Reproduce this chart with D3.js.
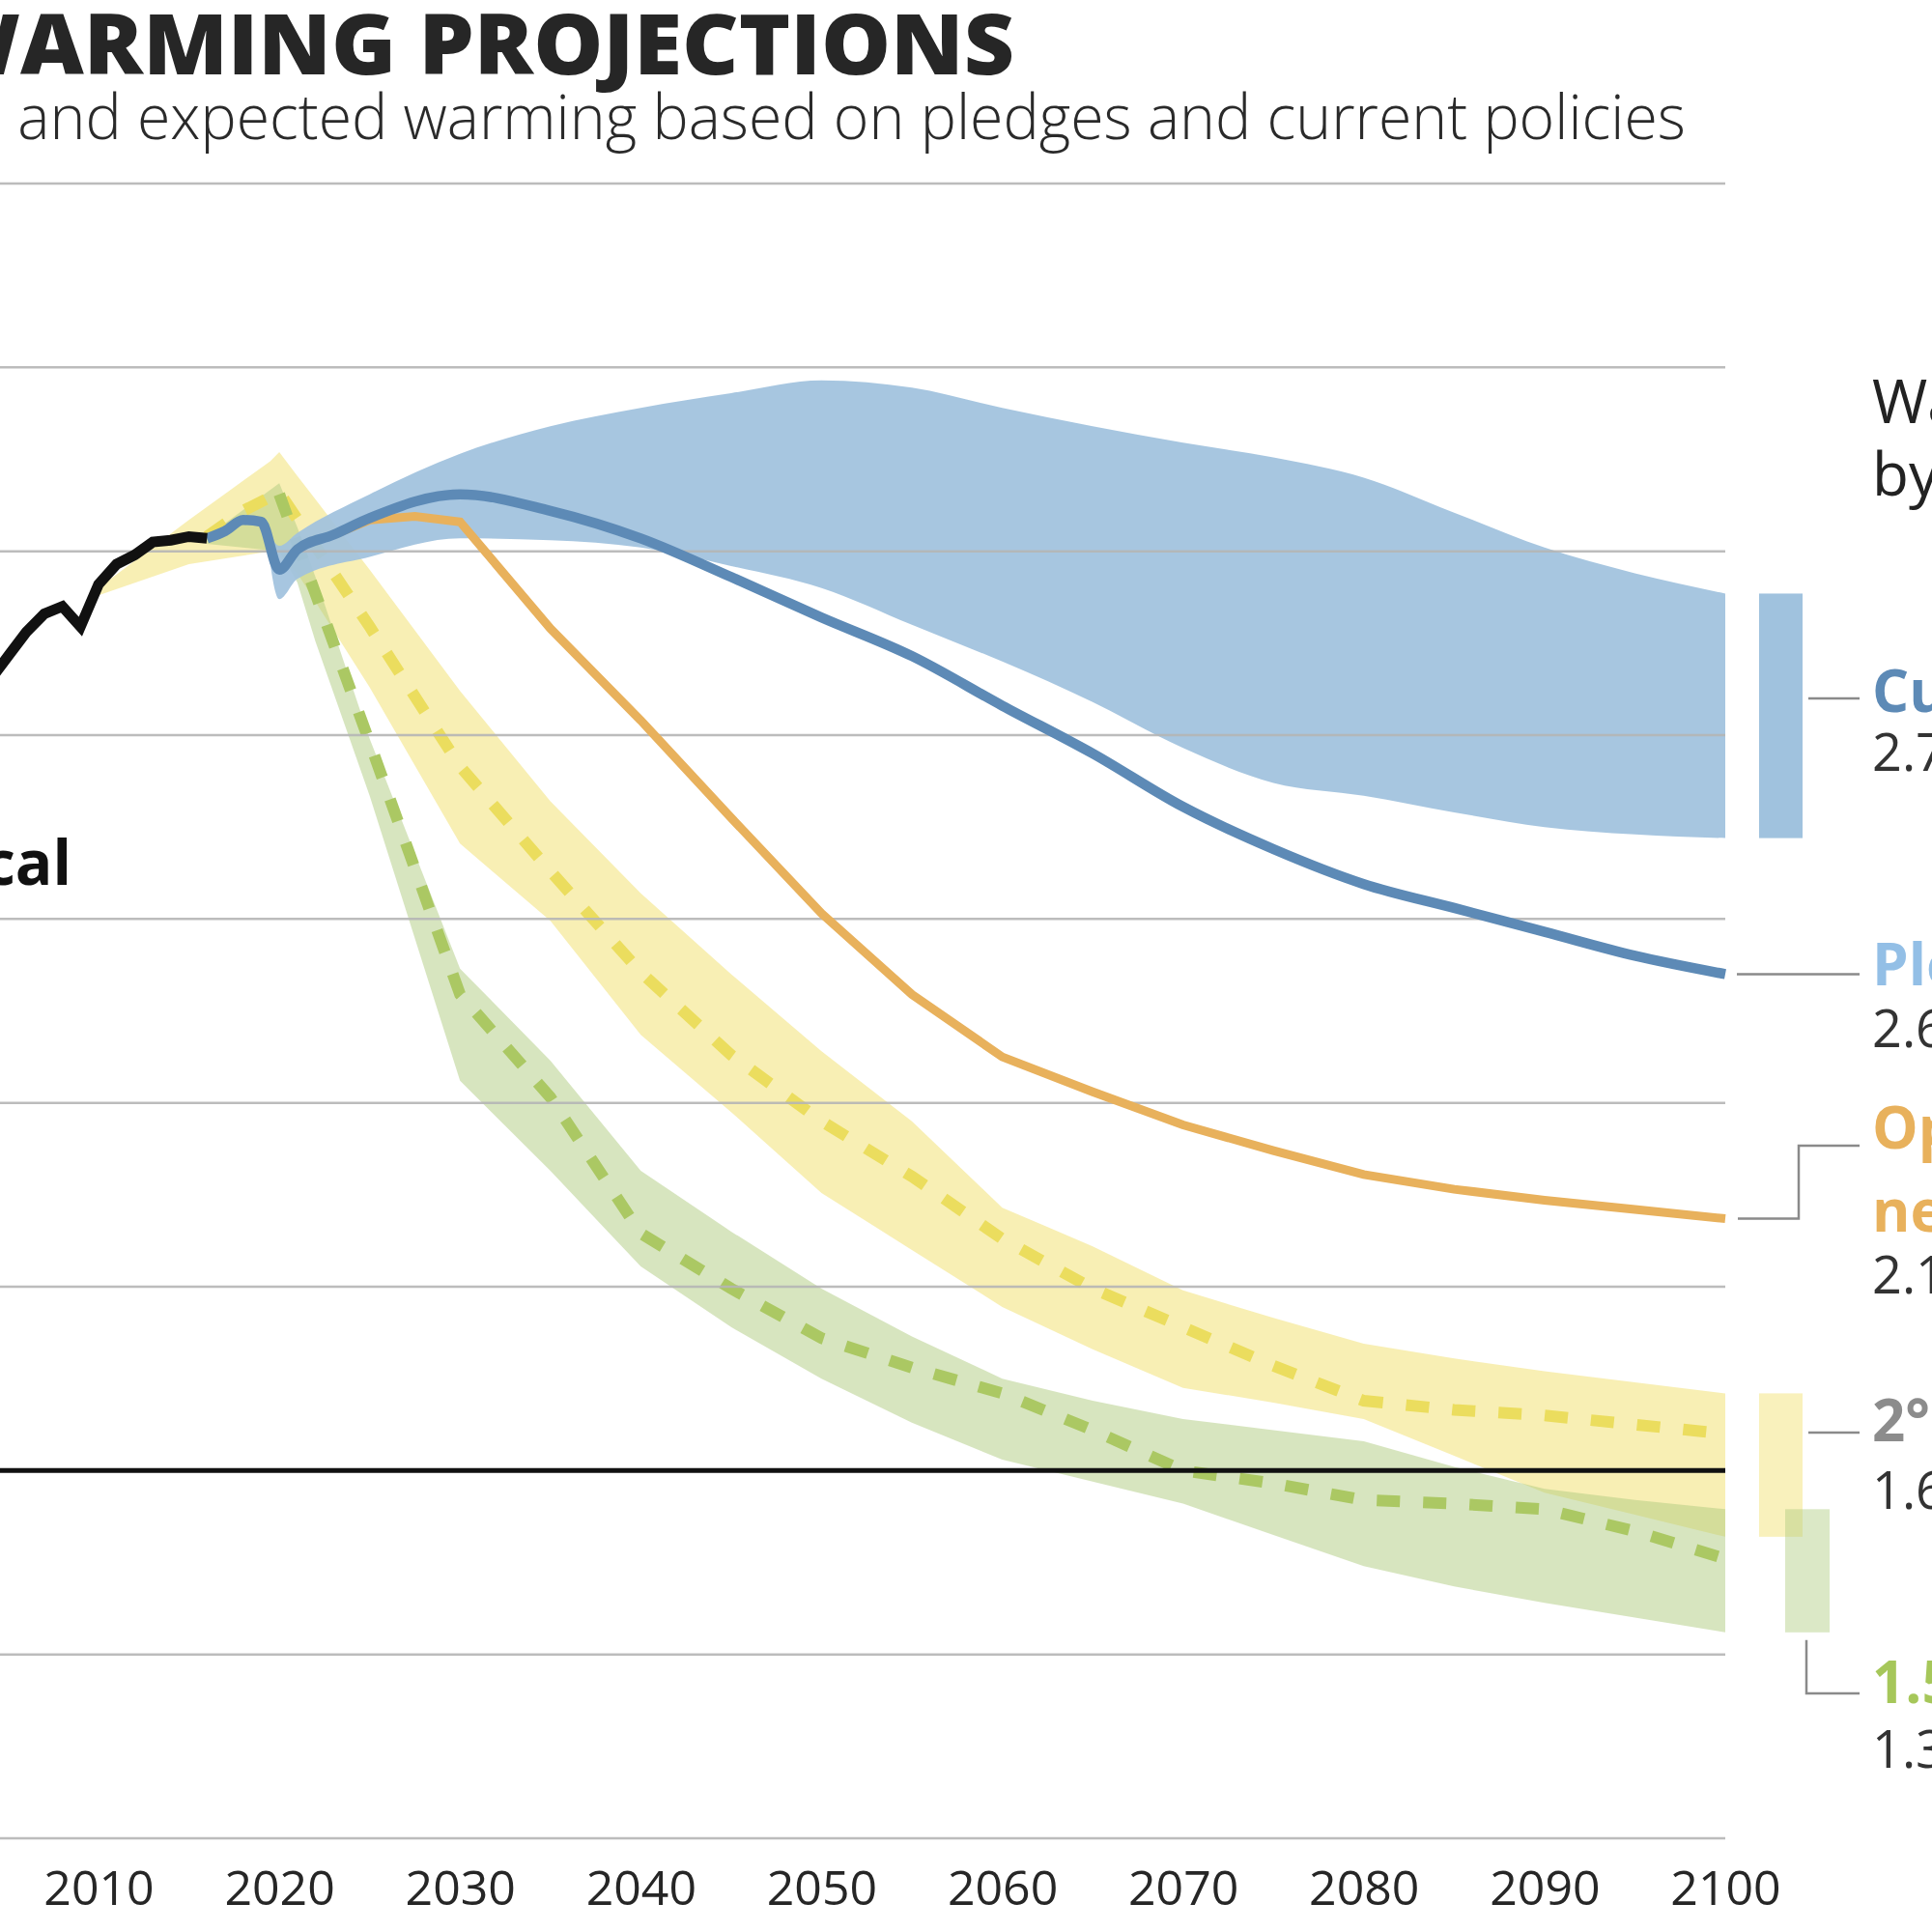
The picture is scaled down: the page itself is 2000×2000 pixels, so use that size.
<!DOCTYPE html>
<html>
<head>
<meta charset="utf-8">
<script src="https://cdn.jsdelivr.net/npm/d3@7"></script>
<style>
  html, body { margin: 0; padding: 0; background: #fff; }
  text { font-family: "Open Sans", "Noto Sans", sans-serif; }
</style>
</head>
<body>
<script>
// ---- data (GtCO2e / year) ----
var histYears = [2004, 2005, 2006, 2007, 2008, 2009, 2010, 2011, 2012, 2013, 2014, 2015, 2016];
var histGt    = [43.0, 44.3, 45.6, 46.6, 47.0, 45.9, 48.2, 49.3, 49.8, 50.5, 50.6, 50.8, 50.7];

// current policy range (blue band)
var cpYears = [2019.2, 2020, 2021, 2025, 2030, 2035, 2040, 2045, 2050, 2055, 2060, 2065, 2070, 2075, 2080, 2085, 2090, 2095, 2100];
var cpHigh  = [51.6, 50.3, 51.0, 53.1, 55.3, 56.8, 57.8, 58.6, 59.3, 58.9, 57.8, 56.8, 55.9, 55.1, 54.0, 52.1, 50.2, 48.8, 47.7];
var cpLow   = [51.6, 47.4, 48.5, 49.7, 50.7, 50.6, 50.2, 49.2, 48.0, 46.0, 44.0, 41.8, 39.3, 37.4, 36.7, 35.8, 35.0, 34.6, 34.4];

// pledges & targets (dark blue line)
var plYears = [2016, 2017, 2018, 2019, 2020, 2021, 2023, 2025, 2030, 2035, 2040, 2045, 2050, 2055, 2060, 2065, 2070, 2075, 2080, 2085, 2090, 2095, 2100];
var plGt    = [50.7, 51.1, 51.7, 51.6, 49.0, 50.1, 50.9, 51.8, 53.1, 52.2, 50.7, 48.6, 46.4, 44.3, 41.6, 39.0, 36.1, 33.8, 31.9, 30.6, 29.3, 28.0, 27.0];

// optimistic net zero targets (orange line)
var onYears = [2023, 2025, 2027.5, 2030, 2035, 2040, 2045, 2050, 2055, 2060, 2065, 2070, 2075, 2080, 2085, 2090, 2095, 2100];
var onGt    = [50.9, 51.7, 51.9, 51.6, 45.8, 40.8, 35.5, 30.3, 25.9, 22.5, 20.6, 18.8, 17.4, 16.1, 15.3, 14.7, 14.2, 13.7];

// 2°C consistent (yellow band + dashed median)
var c2Years = [2010, 2015, 2019.5, 2020, 2021, 2025, 2030, 2035, 2040, 2045, 2050, 2055, 2060, 2065, 2070, 2075, 2080, 2085, 2090, 2095, 2100];
var c2High  = [48.0, 51.7, 54.9, 55.4, 54.1, 49.0, 42.4, 36.4, 31.4, 27.0, 22.8, 19.0, 14.3, 12.2, 9.8, 8.3, 6.9, 6.1, 5.4, 4.8, 4.2];
var c2Low   = [47.6, 49.3, 50.0, 49.7, 48.8, 42.6, 34.1, 29.9, 23.7, 19.5, 15.1, 12.0, 8.9, 6.6, 4.5, 3.7, 2.8, 0.8, -1.2, -2.4, -3.6];
var c2MidYears = [2016, 2018, 2020, 2025, 2030, 2035, 2040, 2045, 2050, 2055, 2060, 2065, 2070, 2075, 2080, 2085, 2090, 2095, 2100];
var c2Mid      = [50.8, 52.2, 53.2, 45.9, 38.3, 32.6, 27.1, 22.6, 19.0, 16.0, 12.6, 9.9, 7.8, 5.7, 3.8, 3.3, 3.0, 2.5, 2.0];

// 1.5°C consistent (green band + dashed median)
var c15Years = [2016, 2020, 2021, 2022, 2025, 2030, 2035, 2040, 2045, 2050, 2055, 2060, 2065, 2070, 2075, 2080, 2085, 2090, 2095, 2100];
var c15High  = [50.8, 53.7, 51.3, 48.6, 39.8, 27.3, 22.3, 16.3, 13.0, 9.9, 7.3, 5.0, 3.8, 2.8, 2.2, 1.6, 0.2, -1.0, -1.6, -2.1];
var c15Low   = [50.4, 50.0, 48.3, 45.1, 36.7, 21.2, 16.3, 11.1, 7.8, 5.0, 2.6, 0.6, -0.6, -1.8, -3.5, -5.2, -6.3, -7.2, -8.0, -8.8];
var c15MidYears = [2020, 2025, 2030, 2035, 2040, 2045, 2050, 2055, 2060, 2065, 2070, 2075, 2080, 2085, 2090, 2095, 2100];
var c15Mid      = [53.1, 39.6, 25.9, 20.3, 12.9, 9.9, 7.2, 5.6, 4.2, 2.2, 0.0, -0.7, -1.6, -1.8, -2.1, -3.3, -4.8];

var tickYears = [2010, 2020, 2030, 2040, 2050, 2060, 2070, 2080, 2090, 2100];
var gridValues = [-20, -10, 10, 20, 30, 40, 50, 60, 70];

var labelNames  = ["Current policies", "Pledges & targets", "Optimistic", "net zero targets", "2°C consistent", "1.5°C consistent"];
var labelValues = ["2.7–3.1°C", "2.6°C", "2.1°C", "1.6–1.7°C", "1.3–1.4°C"];

// ---- colours ----
var cBlueBand = "#a0c2de";
var cBlueLine = "#5d8ab6";
var cPledge   = "#93bfe6";
var cOrange   = "#e8b15c";
var cYellow   = "#f2e06a";
var cYellowDash = "#ebdd5e";
var cGreen    = "#b0cb80";
var cGreenDash = "#abc863";
var cGreenText = "#a6c75a";
var cGrid     = "#b5b5b5";

var W = 2000, H = 2000;
var svg = d3.select("body").append("svg")
  .attr("width", W).attr("height", H)
  .style("background", "#fff");

var x = d3.scaleLinear().domain([2010, 2100]).range([102, 1786]);
var y = d3.scaleLinear().domain([-20, 70]).range([1903, 190]);

function band(years, lo, hi, curve) {
  return d3.area()
    .x(function(d){ return x(years[d]); })
    .y0(function(d){ return y(lo[d]); })
    .y1(function(d){ return y(hi[d]); })
    .curve(curve || d3.curveLinear)(d3.range(years.length));
}
function line(years, vals, curve) {
  return d3.line()
    .x(function(d){ return x(years[d]); })
    .y(function(d){ return y(vals[d]); })
    .curve(curve || d3.curveLinear)(d3.range(years.length));
}

// bands
svg.append("path").attr("d", band(c2Years, c2Low, c2High))
  .attr("fill", cYellow).attr("fill-opacity", 0.5);
svg.append("path").attr("d", band(c15Years, c15Low, c15High))
  .attr("fill", cGreen).attr("fill-opacity", 0.5);

// dashed medians
svg.append("path").attr("d", line(c2MidYears, c2Mid))
  .attr("fill", "none").attr("stroke", cYellowDash).attr("stroke-width", 12)
  .attr("stroke-dasharray", "24,24");
svg.append("path").attr("d", line(c15MidYears, c15Mid))
  .attr("fill", "none").attr("stroke", cGreenDash).attr("stroke-width", 12)
  .attr("stroke-dasharray", "24,24");

svg.append("path").attr("d", band(cpYears, cpLow, cpHigh, d3.curveMonotoneX))
  .attr("fill", cBlueBand).attr("fill-opacity", 0.93);

// grid
svg.selectAll("line.grid").data(gridValues).enter().append("line")
  .attr("class", "grid")
  .attr("x1", 0).attr("x2", x(2100))
  .attr("y1", function(d){ return y(d); }).attr("y2", function(d){ return y(d); })
  .attr("stroke", cGrid).attr("stroke-width", 2.5).attr("stroke-opacity", 0.9);
svg.append("line")
  .attr("x1", 0).attr("x2", x(2100)).attr("y1", y(0)).attr("y2", y(0))
  .attr("stroke", "#111").attr("stroke-width", 5);

// lines
svg.append("path").attr("d", line(onYears, onGt))
  .attr("fill", "none").attr("stroke", cOrange).attr("stroke-width", 9);
svg.append("path").attr("d", line(plYears, plGt, d3.curveMonotoneX))
  .attr("fill", "none").attr("stroke", cBlueLine).attr("stroke-width", 10.5)
  .attr("stroke-linejoin", "round");
svg.append("path").attr("d", line(histYears, histGt))
  .attr("fill", "none").attr("stroke", "#111").attr("stroke-width", 11);

// x axis labels
var ax = svg.append("g").attr("transform", "translate(0," + y(-20) + ")")
  .call(d3.axisBottom(x).tickValues(tickYears).tickFormat(d3.format("d")).tickSize(0).tickPadding(33));
ax.select(".domain").remove();
ax.selectAll("text").attr("font-size", 50).attr("fill", "#262626")
  .style("font-family", "'Open Sans', sans-serif");

// range bars at 2100
var last = function(a){ return a[a.length - 1]; };
var barX = 1821, barW = 45;
svg.append("rect").attr("x", barX).attr("width", barW)
  .attr("y", y(last(cpHigh))).attr("height", y(last(cpLow)) - y(last(cpHigh)))
  .attr("fill", cBlueBand);
svg.append("rect").attr("x", barX).attr("width", barW)
  .attr("y", y(last(c2High))).attr("height", y(last(c2Low)) - y(last(c2High)))
  .attr("fill", cYellow).attr("fill-opacity", 0.45);
svg.append("rect").attr("x", barX + 27).attr("width", barW + 1)
  .attr("y", y(last(c15High))).attr("height", y(last(c15Low)) - y(last(c15High)))
  .attr("fill", cGreen).attr("fill-opacity", 0.45);

// connectors
var conn = svg.append("g").attr("fill", "none").attr("stroke", "#8a8a8a").attr("stroke-width", 2.5);
var tx = 1925;
conn.append("path").attr("d", "M1872,723H" + tx);
conn.append("path").attr("d", "M1798," + y(last(plGt)) + "H" + tx);
conn.append("path").attr("d", "M1799," + y(last(onGt)) + "H1862V1186H" + tx);
conn.append("path").attr("d", "M1872,1483H" + tx);
conn.append("path").attr("d", "M1870," + (y(last(c15Low)) + 8) + "V1753H" + tx);

// right labels
var lx = 1938;
function label(txt, yy, color, weight, size) {
  svg.append("text").attr("x", lx).attr("y", yy).text(txt)
    .attr("fill", color).attr("font-weight", weight).attr("font-size", size);
}
label("Warming projected", 438, "#222", 400, 62);
label("by 2100", 513, "#222", 400, 62);
label(labelNames[0], 737, cBlueLine, 700, 60);
label(labelValues[0], 798, "#333", 400, 54);
label(labelNames[1], 1020, cPledge, 700, 60);
label(labelValues[1], 1084, "#333", 400, 54);
label(labelNames[2], 1189, cOrange, 700, 60);
label(labelNames[3], 1275, cOrange, 700, 60);
label(labelValues[2], 1339, "#333", 400, 54);
label(labelNames[4], 1492, "#8c8c8c", 700, 60);
label(labelValues[3], 1562, "#333", 400, 54);
label(labelNames[5], 1763, cGreenText, 700, 60);
label(labelValues[4], 1830, "#333", 400, 54);

// historical label
svg.append("text").attr("x", 74).attr("y", 916).attr("text-anchor", "end")
  .attr("font-size", 64).attr("font-weight", 700).attr("fill", "#111").text("Historical");

// title + subtitle, squeezed so the visible part spans the same width as the original
function fitted(full, visible, xEnd, baseline, targetW, size, weight, color) {
  var probe = svg.append("text").attr("font-size", size).attr("font-weight", weight).text(visible);
  var w = probe.node().getComputedTextLength();
  probe.remove();
  var s = targetW / w;
  svg.append("text")
    .attr("transform", "translate(" + xEnd + "," + baseline + ") scale(" + s + ",1)")
    .attr("text-anchor", "end").attr("font-size", size).attr("font-weight", weight)
    .attr("fill", color).text(full);
}
fitted("2100 WARMING PROJECTIONS", "ARMING PROJECTIONS", 1050, 77, 1029, 87, 800, "#262626");
fitted("Emissions and expected warming based on pledges and current policies",
       "and expected warming based on pledges and current policies", 1745, 144, 1727, 64, 300, "#2a2a2a");
</script>
</body>
</html>
